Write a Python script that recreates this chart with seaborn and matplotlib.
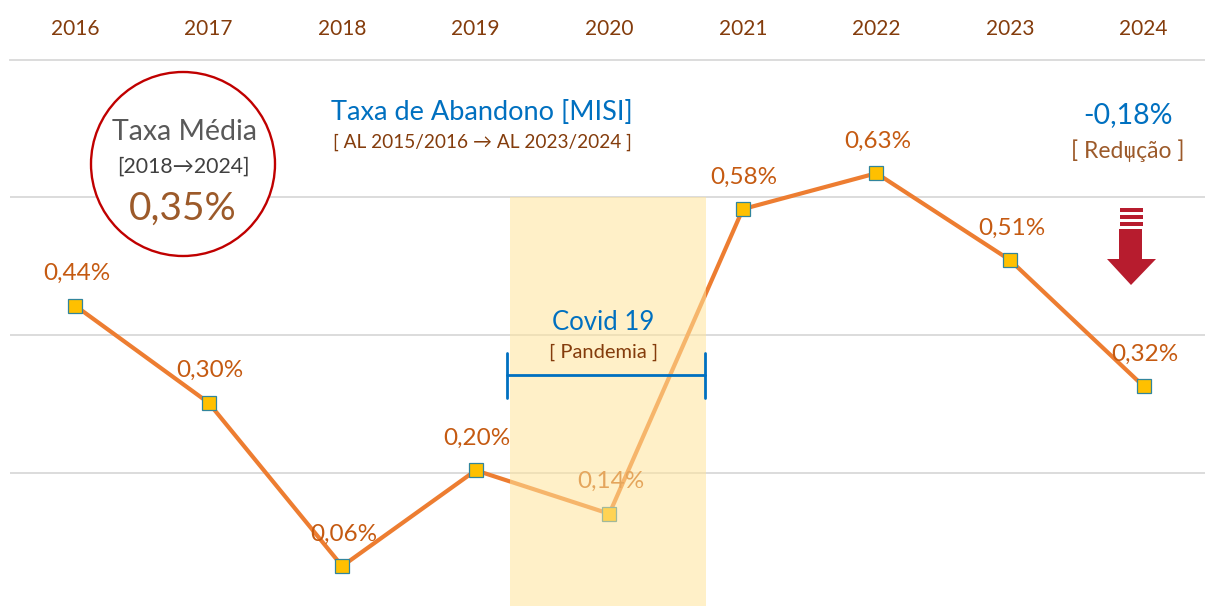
import matplotlib
matplotlib.use("Agg")
import matplotlib.pyplot as plt
import pandas as pd
import seaborn as sns
from matplotlib.patches import Circle, Polygon, Rectangle

# Values
years = ["2016", "2017", "2018", "2019", "2020", "2021", "2022", "2023", "2024"]
rates = [0.443, 0.302, 0.065, 0.204, 0.141, 0.583, 0.635, 0.509, 0.326]
rate_labels = ["0,44%", "0,30%", "0,06%", "0,20%", "0,14%", "0,58%", "0,63%", "0,51%", "0,32%"]
grid_values = [0.2, 0.4, 0.6]

BROWN = "#843C0C"
ORANGE = "#C55A11"
BLUE = "#0070C0"
GRID = "#D9D9D9"
W, H = 1205, 606

sns.set_style("white")
plt.rcParams["font.family"] = ["Lato", "DejaVu Sans"]

df = pd.DataFrame({"year": years, "rate": rates})

fig = plt.figure(figsize=(W / 100, H / 100), dpi=100)
ax = fig.add_axes([10 / W, 0, (W - 10) / W, 1 - 59.5 / H])

sns.lineplot(data=df, x="year", y="rate", ax=ax, color="#ED7D31", linewidth=3,
             marker="s", markersize=10.5, markerfacecolor="#FFC000",
             markeredgecolor="#31859C", markeredgewidth=0.9, zorder=3)

ax.set_xlim(-0.487, 8.46)
ax.set_ylim(0.0072, 0.8)
ax.set_xlabel("")
ax.set_ylabel("")
ax.set_yticks(grid_values)
ax.tick_params(axis="y", left=False, labelleft=False)
ax.xaxis.tick_top()
ax.tick_params(axis="x", length=0, pad=15, labelsize=15, labelcolor=BROWN)
ax.grid(axis="y", color=GRID, linewidth=1.3, zorder=0)
ax.set_axisbelow(True)
for side in ["left", "right", "bottom"]:
    ax.spines[side].set_visible(False)
ax.spines["top"].set_color(GRID)
ax.spines["top"].set_linewidth(1.3)

for i, (rate, label) in enumerate(zip(rates, rate_labels)):
    ax.annotate(label, (i, rate), xytext=(1, 23.2), textcoords="offset points",
                ha="center", va="center", fontsize=17.5, color=ORANGE, zorder=4)

# Covid band sits over the line and washes it out
ax.add_patch(Rectangle((3.257, 0), 1.468, 0.6, facecolor="#FFE49B", alpha=0.55,
                       edgecolor="none", zorder=5))

# Overlay in pixel coordinates for the annotations
ov = fig.add_axes([0, 0, 1, 1], facecolor="none")
ov.set_xlim(0, W)
ov.set_ylim(H, 0)
ov.axis("off")

ov.add_patch(Circle((183, 164), 92, facecolor="white", edgecolor="#C00000", linewidth=1.7))
ov.text(184, 132, "Taxa Média", ha="center", va="center", fontsize=20.5, color="#595959")
ov.text(183, 167, "[2018→2024]", ha="center", va="center", fontsize=15.3, color="#404040")
ov.text(183, 209, "0,35%", ha="center", va="center", fontsize=28, color="#9C5A2A")

ov.text(482, 112, "Taxa de Abandono [MISI]", ha="center", va="center", fontsize=19.5, color=BLUE)
ov.text(482, 142, "[ AL 2015/2016 → AL 2023/2024 ]", ha="center", va="center",
        fontsize=13.7, color=BROWN)

ov.text(1128, 115, "-0,18%", ha="center", va="center", fontsize=20.5, color=BLUE)
ov.text(1128, 151, "[ Redução ]", ha="center", va="center", fontsize=16.5, color="#9C5A2A")
# Small stray down arrow across the "u", as in the original
ov.plot([1129, 1129], [146, 161], color="#9C5A2A", linewidth=0.9)

ov.text(603, 322, "Covid 19", ha="center", va="center", fontsize=18.5, color=BLUE)
ov.text(604, 352, "[ Pandemia ]", ha="center", va="center", fontsize=14.5, color=BROWN)
ov.plot([507, 705], [375, 375], color=BLUE, linewidth=2)
ov.plot([507, 507], [353, 398], color=BLUE, linewidth=2)
ov.plot([705, 705], [353, 398], color=BLUE, linewidth=2)

# Down arrow with its three stripes
ARROW = "#B71C2E"
for top in [208, 215, 222]:
    ov.add_patch(Rectangle((1120, top), 23, 4, facecolor=ARROW, edgecolor="none"))
ov.add_patch(Polygon([(1119, 229), (1142, 229), (1142, 259), (1156, 259),
                      (1131, 285), (1107, 259), (1119, 259)],
                     facecolor=ARROW, edgecolor="none"))

fig.savefig("out.png", dpi=100)
